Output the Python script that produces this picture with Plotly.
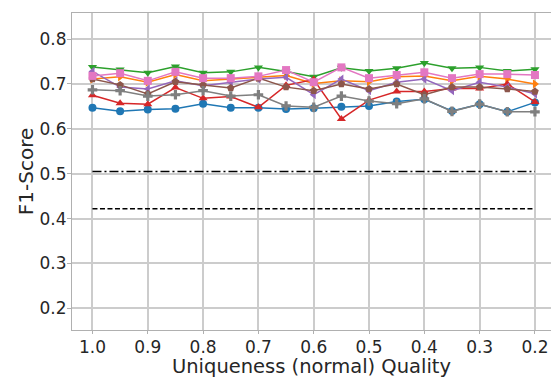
import plotly.graph_objects as go

# Quality levels (x axis, reversed)
quality = [1.0, 0.95, 0.9, 0.85, 0.8, 0.75, 0.7, 0.65, 0.6, 0.55, 0.5, 0.45, 0.4, 0.35, 0.3, 0.25, 0.2]

# F1-scores per model
s_blue   = [0.647, 0.639, 0.643, 0.645, 0.656, 0.647, 0.647, 0.644, 0.646, 0.649, 0.651, 0.661, 0.666, 0.640, 0.655, 0.638, 0.659]
s_orange = [0.711, 0.716, 0.704, 0.721, 0.707, 0.711, 0.715, 0.719, 0.701, 0.707, 0.705, 0.716, 0.718, 0.707, 0.717, 0.711, 0.700]
s_green  = [0.738, 0.732, 0.725, 0.739, 0.725, 0.727, 0.737, 0.728, 0.716, 0.736, 0.729, 0.735, 0.747, 0.735, 0.737, 0.729, 0.733]
s_red    = [0.675, 0.657, 0.655, 0.692, 0.668, 0.672, 0.648, 0.697, 0.710, 0.622, 0.664, 0.683, 0.683, 0.690, 0.690, 0.700, 0.660]
s_purple = [0.728, 0.693, 0.689, 0.707, 0.696, 0.704, 0.711, 0.715, 0.676, 0.711, 0.685, 0.704, 0.711, 0.685, 0.704, 0.693, 0.678]
s_brown  = [0.711, 0.698, 0.678, 0.705, 0.698, 0.691, 0.713, 0.693, 0.685, 0.700, 0.689, 0.700, 0.676, 0.693, 0.693, 0.689, 0.683]
s_pink   = [0.718, 0.724, 0.707, 0.727, 0.713, 0.713, 0.717, 0.731, 0.704, 0.737, 0.713, 0.720, 0.726, 0.713, 0.722, 0.722, 0.720]
s_gray   = [0.687, 0.685, 0.673, 0.676, 0.685, 0.673, 0.676, 0.651, 0.648, 0.673, 0.662, 0.656, 0.667, 0.639, 0.655, 0.638, 0.638]

baseline_dashdot = 0.505
baseline_dashed = 0.422

x_ticks = [1.0, 0.9, 0.8, 0.7, 0.6, 0.5, 0.4, 0.3, 0.2]
y_ticks = [0.2, 0.3, 0.4, 0.5, 0.6, 0.7, 0.8]

series = [
    (s_blue,   "#1f77b4", "circle"),
    (s_orange, "#ff7f0e", "triangle-right"),
    (s_green,  "#2ca02c", "triangle-down"),
    (s_red,    "#d62728", "triangle-up"),
    (s_purple, "#9467bd", "triangle-left"),
    (s_brown,  "#8c564b", "pentagon"),
    (s_pink,   "#e377c2", "square"),
    (s_gray,   "#7f7f7f", "cross"),
]

fig = go.Figure()
fig.add_trace(go.Scatter(x=quality, y=[baseline_dashdot] * len(quality), mode="lines",
                         line=dict(color="black", width=1.5, dash="9px,3px,2px,3px"),
                         showlegend=False, hoverinfo="skip"))
fig.add_trace(go.Scatter(x=quality, y=[baseline_dashed] * len(quality), mode="lines",
                         line=dict(color="black", width=1.5, dash="5px,2.5px"),
                         showlegend=False, hoverinfo="skip"))
for vals, color, sym in series:
    fig.add_trace(go.Scatter(x=quality, y=vals, mode="lines+markers",
                             line=dict(color=color, width=1.5),
                             marker=dict(color=color, symbol=sym, size=8, line=dict(width=0)),
                             showlegend=False))

font_family = "DejaVu Sans"
fig.update_layout(
    width=551, height=378,
    margin=dict(l=72, r=0, t=13, b=43),
    paper_bgcolor="white", plot_bgcolor="white",
    font=dict(family=font_family, color="#262626"),
    showlegend=False,
)
fig.update_xaxes(
    range=[1.037, 0.171], tickvals=x_ticks, tickformat=".1f",
    showgrid=True, gridcolor="#cccccc", gridwidth=1.5,
    showline=True, linecolor="#b0b0b0", linewidth=1.2, mirror=True,
    ticks="outside", ticklen=3, tickcolor="#b0b0b0",
    tickfont=dict(size=17, family=font_family, color="#262626"),
    ticklabelstandoff=-2,
    title=dict(text="Uniqueness (normal) Quality", font=dict(size=19.5, family=font_family, color="#262626"), standoff=8),
    zeroline=False,
)
fig.update_yaxes(
    range=[0.1517, 0.8582], tickvals=y_ticks, tickformat=".1f",
    showgrid=True, gridcolor="#cccccc", gridwidth=1.5,
    showline=True, linecolor="#b0b0b0", linewidth=1.2, mirror=False,
    ticks="outside", ticklen=4, tickcolor="#b0b0b0",
    tickfont=dict(size=17, family=font_family, color="#262626"),
    ticklabelstandoff=-3,
    title=dict(text="F1-Score", font=dict(size=20, family=font_family, color="#262626"), standoff=0),
    zeroline=False,
)

fig.write_html("out.html")
